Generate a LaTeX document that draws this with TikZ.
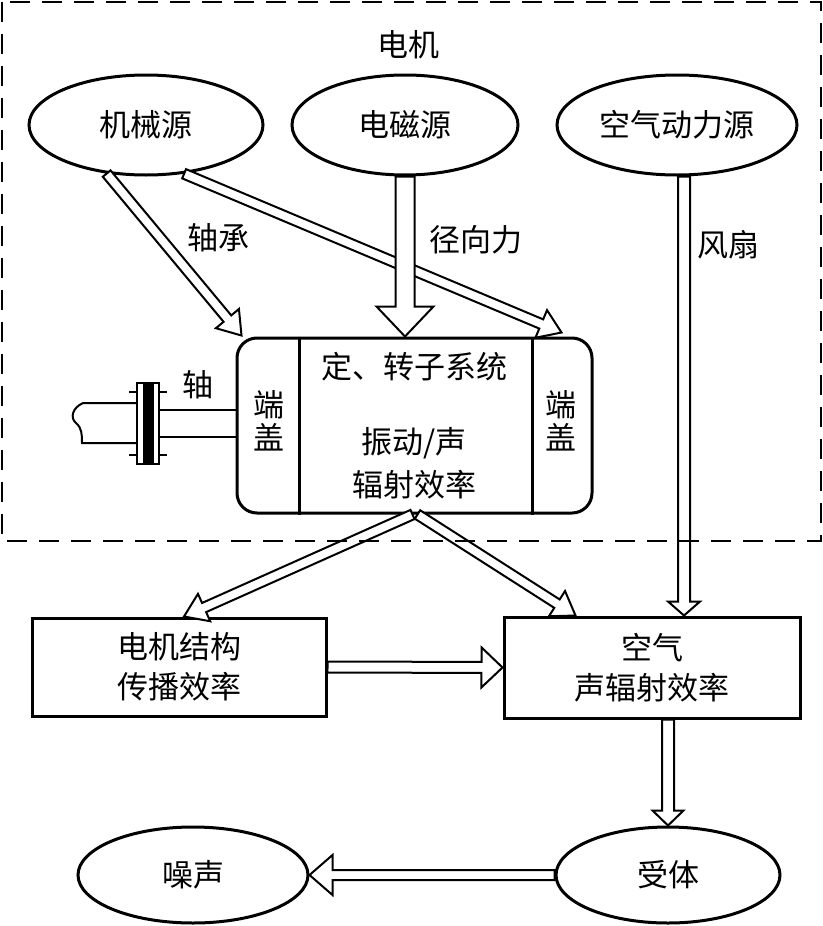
\documentclass[tikz,border=0pt]{standalone}
\usepackage{fontspec}
\setmainfont{Noto Sans CJK SC}
\usetikzlibrary{shapes.geometric,positioning,calc}

% hollow arrow: start, end, half shaft width, half head width, head length
\newcommand{\harrow}[5]{%
  \coordinate (h-p) at ($(#2)!#5!(#1)$);
  \draw[line width=1pt, fill=white, line join=miter]
    ($(#1)!#3!90:(#2)$) -- ($(h-p)!#3!-90:(#1)$) -- ($(h-p)!#4!-90:(#1)$) -- (#2)
    -- ($(h-p)!#4!90:(#1)$) -- ($(h-p)!#3!90:(#1)$) -- ($(#1)!#3!-90:(#2)$) -- cycle;}

\begin{document}
\begin{tikzpicture}[
  x=0.5pt, y=-0.5pt,
  font=\fontsize{15.5}{19}\selectfont,
  src/.style={ellipse, draw, line width=1.5pt, minimum width=#1,
              minimum height=50pt, inner sep=0pt},
  blk/.style={rectangle, draw, line width=1.5pt, minimum height=49pt,
              align=center, inner sep=0pt, font=\fontsize{15.5}{20}\selectfont},
  core/.style={rectangle, draw, line width=1.5pt, rounded corners=10pt,
               minimum width=177.5pt, minimum height=87.5pt},
  lbl/.style={inner sep=1pt, align=center},
  shaft/.style={line width=1pt}
]
\useasboundingbox (0,0) rectangle (823,926);

% sources
\node[src=117pt] (mech) at (146,125) {机械源};
\node[src=113pt] (emag) at (405,125) {电磁源};
\node[src=120pt] (aero) at (677,125) {空气动力源};
\node[lbl] (motor) at (408,45) {电机};

% stator / rotor
\node[core] (core) at (414.5,425.5) {};
\draw[line width=1.2pt] ([xshift=32pt]core.north west) -- ([xshift=32pt]core.south west);
\draw[line width=1.2pt] ([xshift=-30.5pt]core.north east) -- ([xshift=-30.5pt]core.south east);
\node[lbl] (stator) at (414,367) {定、转子系统};
\node[lbl, font=\fontsize{15.5}{21.5}\selectfont] (vib) at (414,463) {振动/声\\辐射效率};
\node[lbl, font=\fontsize{15.5}{16.5}\selectfont] (capL) at (269,421) {端\\盖};
\node[lbl, font=\fontsize{15.5}{16.5}\selectfont] (capR) at (561,421) {端\\盖};

% shaft and coupling
\draw[shaft] (159,410) -- (core.west |- 0,410);
\draw[shaft] (159,437) -- (core.west |- 0,437);
\draw[shaft] (137,403) -- (83,403) .. controls (72,408) and (70,418) .. (76,423)
  .. controls (82,428) and (82,435) .. (82,443) -- (137,443);
\draw[shaft] (129,392) -- (167,392);
\draw[shaft] (129,455) -- (167,455);
\draw[shaft, fill=white] (137,383) rectangle (159,464);
\fill (143,383) rectangle (154,464);
\node[lbl] (axle) at (198,385) {轴};

% lower blocks
\node[blk, minimum width=147pt] (struct) at (179,667) {电机结构\\传播效率};
\node[blk, minimum width=148pt, minimum height=50.5pt] (air) at (652,667.5) {空气\\声辐射效率};
\node[src=112pt, minimum height=48pt] (recv) at (668,875) {受体};
\node[src=115pt, minimum height=48pt] (noise) at (193,875) {噪声};

% arrow end points
\coordinate (tipA) at ($(core.north west)+(6,-1)$);
\coordinate (tipB) at ($(core.north east)+(-32,-4)$);
\coordinate (tipR) at (emag.south |- core.north);
\coordinate (fanS) at ($(aero.south)+(7,0)$);
\coordinate (tipF) at (fanS |- air.north);
\coordinate (outL) at ($(core.south)+(-2,0)$);
\coordinate (outR) at ($(core.south)+(3,0)$);
\coordinate (tipC) at ($(struct.north)+(5,0)$);
\coordinate (tipD) at ($(air.north west)+(73,0)$);
\coordinate (airS) at (recv.north |- air.south);

% flows
\harrow{mech.-129}{tipA}{2.5pt}{7.5pt}{11pt}
\harrow{mech.-52}{tipB}{2.5pt}{7.5pt}{11pt}
\harrow{emag.south}{tipR}{4.75pt}{14.25pt}{15pt}
\harrow{fanS}{tipF}{3pt}{8pt}{7pt}
\harrow{outL}{tipC}{2.5pt}{7.5pt}{11pt}
\harrow{outR}{tipD}{2.5pt}{7.5pt}{11pt}
\harrow{struct.east}{air.west}{2.75pt}{10pt}{10.5pt}
\harrow{airS}{recv.north}{3pt}{7.75pt}{7.5pt}
\harrow{recv.west}{noise.east}{2.5pt}{10pt}{11.5pt}

\node[lbl] (bear) at (218,238) {轴承};
\node[lbl] (radial) at (476,240) {径向力};
\node[lbl] (fan) at (728,245) {风扇};

% motor boundary
\draw[line width=1.2pt, dash pattern=on 10pt off 6pt] (2,2) rectangle (821,541);
\end{tikzpicture}
\end{document}
